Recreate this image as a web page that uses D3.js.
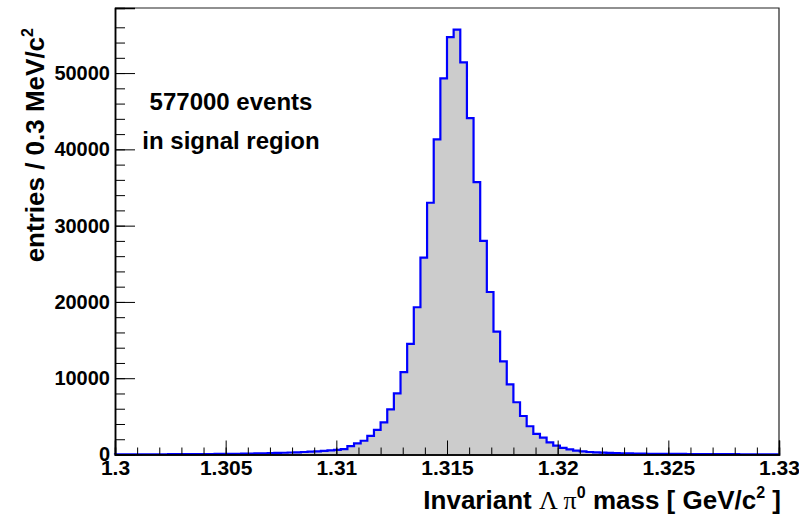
<!DOCTYPE html>
<html>
<head>
<meta charset="utf-8">
<script src="https://cdn.jsdelivr.net/npm/d3@7/dist/d3.min.js"></script>
<style>
html,body{margin:0;padding:0;background:#fff;}
svg{display:block;}
text{font-family:"Liberation Sans",Arial,Helvetica,sans-serif;font-weight:bold;fill:#000;}
</style>
</head>
<body>
<svg id="chart" width="799" height="520"></svg>
<script>
// ---- data ----
const binLow = 1.3;
const binWidth = 0.0003;
const counts = [
  20, 20, 25, 25, 30, 30, 35, 35, 40, 45,
  45, 50, 55, 60, 65, 70, 80, 90, 100, 110,
  125, 140, 160, 180, 205, 230, 260, 290, 330, 370,
  420, 470, 540, 610, 700, 1100, 1450, 1800, 2450, 3220,
  4200, 5920, 8000, 10800, 14500, 19300, 25800, 33000, 41300, 49300,
  54700, 55700, 51400, 44100, 35700, 28000, 21300, 16100, 12200, 9200,
  6850, 5050, 3700, 2700, 2200, 1580, 1170, 870, 680, 510,
  420, 330, 290, 250, 200, 170, 150, 135, 120, 110,
  100, 90, 85, 80, 75, 70, 65, 60, 55, 50,
  45, 42, 40, 38, 35, 32, 30, 28, 25, 22
];
const xDomain = [1.3, 1.33];
const yDomain = [0, 58530];
const xTickValues = [1.3, 1.305, 1.31, 1.315, 1.32, 1.325, 1.33];
const xTickLabels = ["1.3", "1.305", "1.31", "1.315", "1.32", "1.325", "1.33"];
const yTickValues = [0, 10000, 20000, 30000, 40000, 50000];
const yTickLabels = ["0", "10000", "20000", "30000", "40000", "50000"];
const annotation = ["577000 events", "in signal region"];

// ---- layout ----
const L = 115, R = 779, T = 8, B = 454.5;
const svg = d3.select("#chart");
const x = d3.scaleLinear().domain(xDomain).range([L, R]);
const y = d3.scaleLinear().domain(yDomain).range([B, T]);

// histogram outline points
const pts = [[binLow, 0]];
counts.forEach((c, i) => {
  const lo = binLow + i * binWidth, hi = binLow + (i + 1) * binWidth;
  pts.push([lo, c], [hi, c]);
});
pts.push([binLow + counts.length * binWidth, 0]);

const area = d3.area().x(d => x(d[0])).y0(y(0)).y1(d => y(d[1]));
const line = d3.line().x(d => x(d[0])).y(d => y(d[1]));

svg.append("path").attr("d", area(pts)).attr("fill", "#cccccc").attr("stroke", "none");
svg.append("path").attr("d", line(pts)).attr("fill", "none")
  .attr("stroke", "#0000ff").attr("stroke-width", 2.2).attr("stroke-linejoin", "miter");

// frame (top/right)
svg.append("path").attr("d", `M${L},${T}H${R}V${B}`).attr("fill", "none")
  .attr("stroke", "#222").attr("stroke-width", 1.2);

// x axis
const xMinor = d3.range(0, 31).map(i => 1.3 + i * 0.001);
const xAxisMinor = d3.axisBottom(x).tickValues(xMinor).tickSize(-7).tickFormat("");
const xAxisMajor = d3.axisBottom(x).tickValues(xTickValues).tickSize(-14)
  .tickFormat((d, i) => xTickLabels[i]);
const gxm = svg.append("g").attr("transform", `translate(0,${B})`).call(xAxisMinor);
const gx = svg.append("g").attr("transform", `translate(0,${B})`).call(xAxisMajor);
[gxm, gx].forEach(g => {
  g.select(".domain").attr("stroke", "#000").attr("stroke-width", 1.5);
  g.selectAll(".tick line").attr("stroke", "#000").attr("stroke-width", 1);
});
gx.selectAll(".tick text").attr("font-size", 21).attr("font-family", "Liberation Sans, Arial, sans-serif")
  .attr("font-weight", "bold").attr("fill", "#000").attr("dy", "0.71em").attr("y", 6);

// y axis
const yMinor = d3.range(0, 29).map(i => i * 2000);
const yAxisMinor = d3.axisLeft(y).tickValues(yMinor).tickSize(-10).tickFormat("");
const yAxisMajor = d3.axisLeft(y).tickValues(yTickValues).tickSize(-20)
  .tickFormat((d, i) => yTickLabels[i]);
const gym = svg.append("g").attr("transform", `translate(${L},0)`).call(yAxisMinor);
const gy = svg.append("g").attr("transform", `translate(${L},0)`).call(yAxisMajor);
[gym, gy].forEach(g => {
  g.select(".domain").attr("stroke", "#000").attr("stroke-width", 1.5);
  g.selectAll(".tick line").attr("stroke", "#000").attr("stroke-width", 1);
});
gy.selectAll(".tick text").attr("font-size", 20).attr("font-family", "Liberation Sans, Arial, sans-serif")
  .attr("font-weight", "bold").attr("fill", "#000").attr("x", -5);

// annotation
svg.append("text").attr("x", 231).attr("y", 110).attr("text-anchor", "middle")
  .attr("font-size", 24).text(annotation[0]);
svg.append("text").attr("x", 231).attr("y", 149).attr("text-anchor", "middle")
  .attr("font-size", 24).text(annotation[1]);

// x title
const xt = svg.append("text").attr("x", 781).attr("y", 509).attr("text-anchor", "end").attr("font-size", 26);
xt.append("tspan").text("Invariant ");
xt.append("tspan").attr("font-family", "Liberation Serif, serif").attr("font-weight", "normal").text("Λ π");
xt.append("tspan").attr("font-size", 16).attr("dy", -11).text("0");
xt.append("tspan").attr("dy", 11).text(" mass [ GeV/c");
xt.append("tspan").attr("font-size", 16).attr("dy", -11).text("2");
xt.append("tspan").attr("dy", 11).text(" ]");

// y title
const yt = svg.append("text").attr("transform", "translate(44,28) rotate(-90)")
  .attr("text-anchor", "end").attr("font-size", 26);
yt.append("tspan").text("entries / 0.3 MeV/c");
yt.append("tspan").attr("font-size", 16).attr("dy", -11).text("2");
</script>
</body>
</html>
